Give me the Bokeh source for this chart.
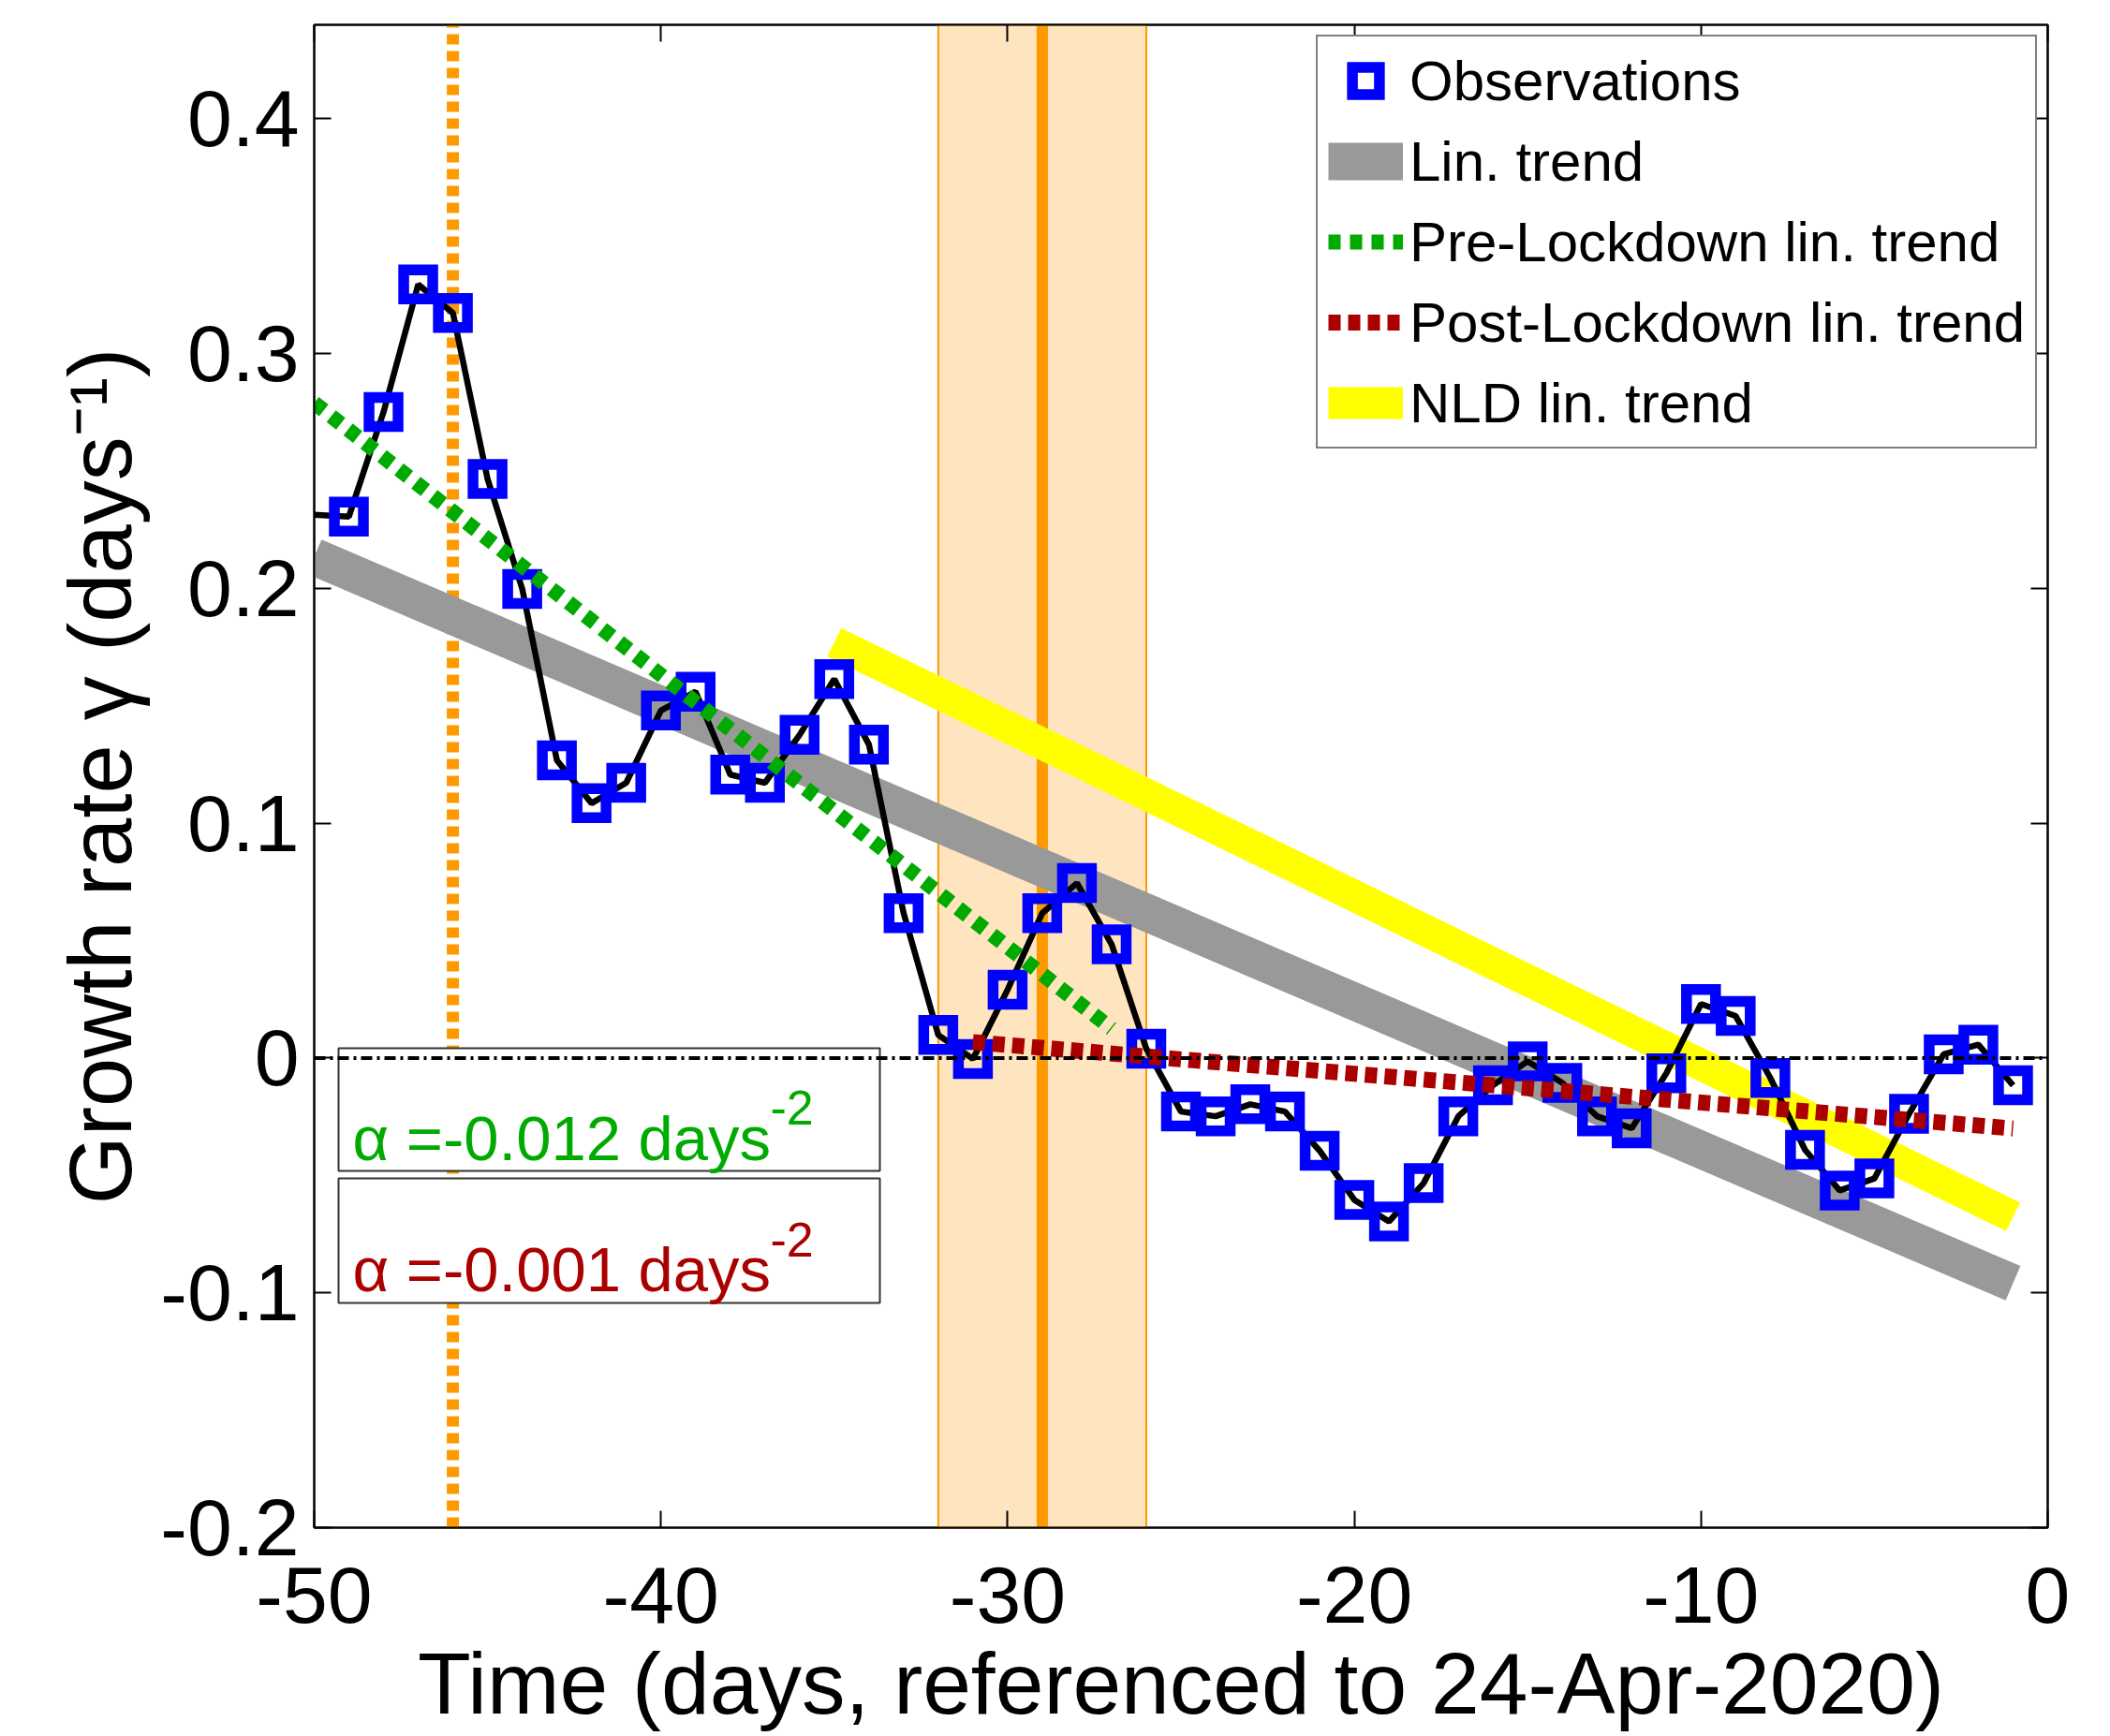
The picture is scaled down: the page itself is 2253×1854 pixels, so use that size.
from bokeh.plotting import figure
from bokeh.models import (Range1d, LinearAxis, FixedTicker, Legend, LegendItem,
                          Label, Span)
from bokeh.embed import file_html
from bokeh.resources import INLINE

# ---- data -------------------------------------------------------------
# observation days (relative to 24-Apr-2020) and daily growth rate (1/days)
days = [-51, -49, -48, -47, -46, -45, -44, -43, -42, -41, -40, -39, -38, -37,
        -36, -35, -34, -33, -32, -31, -30, -29, -28, -27, -26, -25, -24, -23,
        -22, -21, -20, -19, -18, -17, -16, -15, -14, -13, -12, -11, -10, -9,
        -8, -7, -6, -5, -4, -3, -2, -1]
growth = [0.232, 0.2306, 0.2751, 0.3294, 0.3173, 0.2466, 0.1998, 0.1268,
          0.1085, 0.1172, 0.1480, 0.1560, 0.1207, 0.1172, 0.1376, 0.1614,
          0.1335, 0.0617, 0.0098, -0.0004, 0.0291, 0.0617, 0.0745, 0.0484,
          0.0040, -0.0228, -0.0248, -0.0197, -0.0228, -0.0395, -0.0604,
          -0.0696, -0.0533, -0.0248, -0.0116, -0.0014, -0.0106, -0.0248,
          -0.0299, -0.0065, 0.0230, 0.0179, -0.0085, -0.0391, -0.0564,
          -0.0513, -0.0238, 0.0016, 0.0057, -0.0116]

# linear trends: end points (day, rate)
lin_days = [-50, -1]
lin_vals = [0.2135, -0.0959]
pre_days = [-50, -27]
pre_vals = [0.2790, 0.0125]
post_days = [-31, -1]
post_vals = [0.0068, -0.0300]
nld_days = [-35, -1]
nld_vals = [0.1770, -0.0676]

# event markers
early_event_day = -46
lockdown_day = -29
lockdown_window = [-32, -26]

x_ticks = [-50, -40, -30, -20, -10, 0]
x_tick_labels = ["-50", "-40", "-30", "-20", "-10", "0"]
y_ticks = [-0.2, -0.1, 0.0, 0.1, 0.2, 0.3, 0.4]
y_tick_labels = ["-0.2", "-0.1", "0", "0.1", "0.2", "0.3", "0.4"]

pre_slope = (pre_vals[1] - pre_vals[0]) / (pre_days[1] - pre_days[0])
post_slope = (post_vals[1] - post_vals[0]) / (post_days[1] - post_days[0])

# ---- colours / fonts ----------------------------------------------------
FONT = "Liberation Sans"
BLUE = "#0000FF"
GRAY = "#999999"
YELLOW = "#FFFF00"
GREEN = "#00AA00"
RED = "#AA0000"
ORANGE = "#FF9900"
BAND = "#FFE5BF"

# ---- canvas / frame geometry (pixels) -------------------------------------
W, H = 2253, 1854
FL, FR, FT, FB = 335, 2186, 26, 1631
X0, X1 = -50, 0
Y0, Y1 = -0.2, 0.44


def dx(px):
    return X0 + (px - FL) * (X1 - X0) / (FR - FL)


def dy(py):
    return Y1 - (py - FT) * (Y1 - Y0) / (FB - FT)


p = figure(width=W, height=H, x_range=Range1d(X0, X1), y_range=Range1d(Y0, Y1),
           output_backend="svg", toolbar_location=None,
           min_border_left=FL, min_border_right=W - FR,
           min_border_top=FT, min_border_bottom=H - FB)
p.background_fill_color = "white"
p.border_fill_color = "white"
p.grid.visible = False
p.outline_line_color = "black"
p.outline_line_width = 2


def style_axis(ax, ticks, labels=None, font_size="86px", standoff=16):
    ax.ticker = FixedTicker(ticks=ticks)
    ax.major_tick_in = 18
    ax.major_tick_out = 0
    ax.minor_tick_in = 0
    ax.minor_tick_out = 0
    ax.major_tick_line_width = 2
    ax.major_tick_line_color = "black"
    ax.axis_line_width = 2
    ax.axis_line_color = "black"
    ax.major_label_text_font = FONT
    ax.major_label_text_font_size = font_size
    ax.major_label_standoff = standoff
    if labels is None:
        ax.major_label_text_color = None
    else:
        ax.major_label_text_color = "black"
        ax.major_label_overrides = dict(zip(ticks, labels))
    ax.axis_label_text_font = FONT
    ax.axis_label_text_font_style = "normal"
    ax.axis_label_text_color = "black"


xax = p.xaxis[0]
style_axis(xax, x_ticks, x_tick_labels, standoff=42)
xax.axis_label = "Time (days, referenced to 24-Apr-2020)"
xax.axis_label_text_font_size = "93px"
xax.axis_label_standoff = 10

yax = p.yaxis[0]
style_axis(yax, y_ticks, y_tick_labels, standoff=16)
yax.axis_label = "Growth rate \u03b3 (days\u207b\u00b9)"
yax.axis_label_text_font_size = "94px"
yax.axis_label_standoff = 8

right_ax = LinearAxis()
style_axis(right_ax, y_ticks, font_size="8px", standoff=0)
p.add_layout(right_ax, "right")
top_ax = LinearAxis()
style_axis(top_ax, x_ticks, font_size="8px", standoff=0)
p.add_layout(top_ax, "above")

# ---- lockdown window and event lines ----------------------------------------
p.quad(left=[lockdown_window[0]], right=[lockdown_window[1]], bottom=[Y0], top=[Y1],
       fill_color=BAND, line_color=ORANGE, line_width=2)
p.segment(x0=[early_event_day], y0=[Y0], x1=[early_event_day], y1=[Y1],
          line_color=ORANGE, line_width=13, line_dash="11 7")
p.segment(x0=[lockdown_day], y0=[Y0], x1=[lockdown_day], y1=[Y1],
          line_color=ORANGE, line_width=12)

# ---- boxes for the slope annotations ------------------------------------------
p.quad(left=[dx(361), dx(361)], right=[dx(939), dx(939)],
       top=[dy(1119), dy(1258)], bottom=[dy(1250), dy(1391)],
       fill_color="white", line_color="#333333", line_width=2)

# ---- trends and observations --------------------------------------------------
r_lin = p.line(lin_days, lin_vals, line_color=GRAY, line_width=40)
r_nld = p.line(nld_days, nld_vals, line_color=YELLOW, line_width=34)
p.line(days, growth, line_color="black", line_width=6.5)
r_obs = p.scatter(days, growth, marker="square", size=31, fill_color=None,
                  line_color=BLUE, line_width=11.5, line_join="miter")
r_pre = p.line(pre_days, pre_vals, line_color=GREEN, line_width=16, line_dash="13 10")
r_post = p.line(post_days, post_vals, line_color=RED, line_width=17, line_dash="13 8")

p.add_layout(Span(location=0, dimension="width", line_color="black",
                  line_width=4, line_dash="12 5 3 5"))

# ---- slope annotations ---------------------------------------------------------
def add_label(x, y, text, size, color="black"):
    p.add_layout(Label(x=x, y=y, text=text, text_align="left",
                       text_baseline="alphabetic", text_font=FONT,
                       text_font_size=size, text_color=color))


add_label(dx(376), dy(1215), f"\u03b1 ={pre_slope:.3f} days", "67px", color=GREEN)
add_label(dx(822), dy(1182), "-2", "52px", color=GREEN)
add_label(dx(376), dy(1355), f"\u03b1 ={post_slope:.3f} days", "67px", color=RED)
add_label(dx(822), dy(1323), "-2", "52px", color=RED)

# ---- legend -----------------------------------------------------------------
legend = Legend(
    items=[LegendItem(label="Observations", renderers=[r_obs]),
           LegendItem(label="Lin. trend", renderers=[r_lin]),
           LegendItem(label="Pre-Lockdown lin. trend", renderers=[r_pre]),
           LegendItem(label="Post-Lockdown lin. trend", renderers=[r_post]),
           LegendItem(label="NLD lin. trend", renderers=[r_nld])],
    location=(1405 - FL, FB - 479), orientation="vertical",
    label_text_font=FONT, label_text_font_size="60px", label_text_color="black",
    glyph_width=80, glyph_height=72, label_height=72, label_standoff=7,
    spacing=14, padding=11, margin=0,
    border_line_color="black", border_line_width=2,
    background_fill_color="white", background_fill_alpha=1.0)
p.add_layout(legend)

open("out.html", "w").write(file_html(p, INLINE))
